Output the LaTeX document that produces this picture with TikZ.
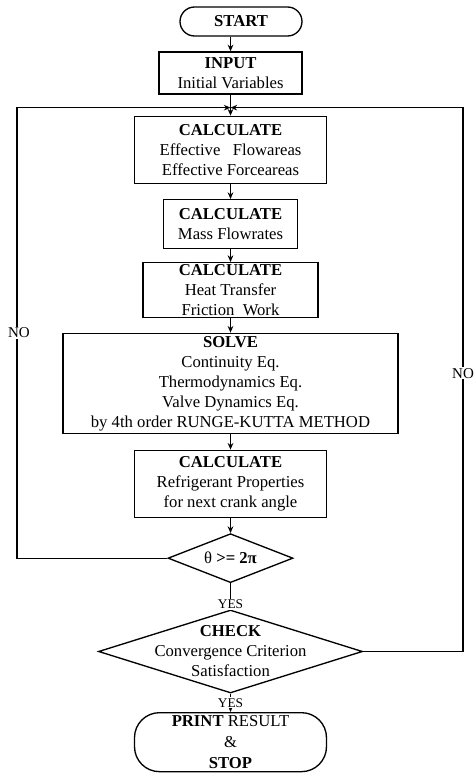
\documentclass[tikz,border=0pt]{standalone}
\usepackage{fontspec}
\setmainfont{Liberation Serif}
\usetikzlibrary{
  arrows.meta,
  positioning,
  shapes.geometric,
  calc
}
\tikzset{
  procbox/.style={draw, line width=0.8pt, fill=white,
    align=center, font=\fontsize{10}{12}\selectfont,
    inner xsep=2pt, inner ysep=0.5pt},
  termbox/.style={procbox, rounded corners=8.7pt},
  decbox/.style={draw, diamond, line width=0.8pt, fill=white,
    inner sep=0pt},
  dectext/.style={align=center, font=\fontsize{10}{12}\selectfont},
  arr/.style={-{Stealth[length=4pt, width=3.4pt]}, line width=0.8pt},
  lbl/.style={fill=white, inner sep=0.6pt, font=\fontsize{9}{10}\selectfont},
  yeslbl/.style={lbl, font=\fontsize{8}{9}\selectfont},
}

\begin{document}
\begin{tikzpicture}[x=0.6pt, y=-0.6pt]
  \useasboundingbox (0,0) rectangle (474,774);

  % Start and input
  \node[termbox, minimum width=73.2pt, minimum height=17.4pt] (start)
    at (241,21.5) {\textbf{START}};
  \node[procbox, minimum width=85.8pt, minimum height=25.2pt] (input)
    at (230.5,73) {\textbf{INPUT}\\Initial Variables};

  % Main loop
  \node[procbox, minimum width=115.2pt, minimum height=40.2pt,
        below=12.6pt of input] (calc1) {
    \textbf{CALCULATE}\\
    Effective\ \ \ Flowareas\\
    Effective Forceareas
  };
  \node[procbox, minimum width=80.4pt, minimum height=29.4pt,
        below=9pt of calc1] (calc2) {
    \textbf{CALCULATE}\\
    Mass Flowrates
  };
  \node[procbox, minimum width=105pt, minimum height=33pt,
        below=7.6pt of calc2] (calc3) {
    \textbf{CALCULATE}\\
    Heat Transfer\\
    Friction\ \ Work
  };
  \node[procbox, minimum width=201pt, minimum height=60pt,
        below=8.6pt of calc3] (solve) {
    \textbf{SOLVE}\\
    Continuity Eq.\\
    Thermodynamics Eq.\\
    Valve Dynamics Eq.\\
    by 4th order RUNGE-KUTTA METHOD
  };
  \node[procbox, minimum width=115.2pt, minimum height=40.2pt,
        below=9.4pt of solve] (calc4) {
    \textbf{CALCULATE}\\
    Refrigerant Properties\\
    for next crank angle
  };
  \node[decbox, minimum width=75pt, minimum height=29.4pt,
        below=9pt of calc4,
        label={[dectext]center:θ \textbf{>= 2π}}] (d1) {};

  % Convergence check and end
  \node[decbox, minimum width=158.4pt, minimum height=49.8pt,
        below=15.6pt of d1,
        label={[dectext]center:%
          \textbf{CHECK}\\Convergence Criterion\\Satisfaction}] (check) {};
  \node[termbox, rounded corners=15pt, minimum width=115.2pt,
        minimum height=35.4pt, below=11pt of check,
        font=\fontsize{10}{12.6}\selectfont] (print) {
    \textbf{PRINT} RESULT\\
    \&\\
    \textbf{STOP}
  };

  % Arrows
  \draw[arr] (start.south -| input.north) -- (input.north);
  \foreach \a/\b in {input/calc1, calc1/calc2, calc2/calc3, calc3/solve,
                     solve/calc4, calc4/d1, d1/check, check/print} {
    \draw[arr] (\a.south) -- (\b.north);
  }

  % Loop-back lines
  \coordinate (j) at ([yshift=-7.8pt]input.south);
  \coordinate (lft) at (j -| 17,0);
  \coordinate (rgt) at (j -| 463,0);
  \draw[arr] (d1.west) -| (lft) -- (j);
  \draw[arr] (check.east) -| (rgt) -- (j);

  % Labels
  \node[lbl] at ([xshift=1.2pt]lft |- solve.north) {NO};
  \node[lbl] at ([yshift=6pt]rgt |- solve) {NO};
  \node[yeslbl] at ([yshift=3pt]check.north) {YES};
  \node[yeslbl] at ($(check.south)!0.5!(print.north)$) {YES};
\end{tikzpicture}
\end{document}
